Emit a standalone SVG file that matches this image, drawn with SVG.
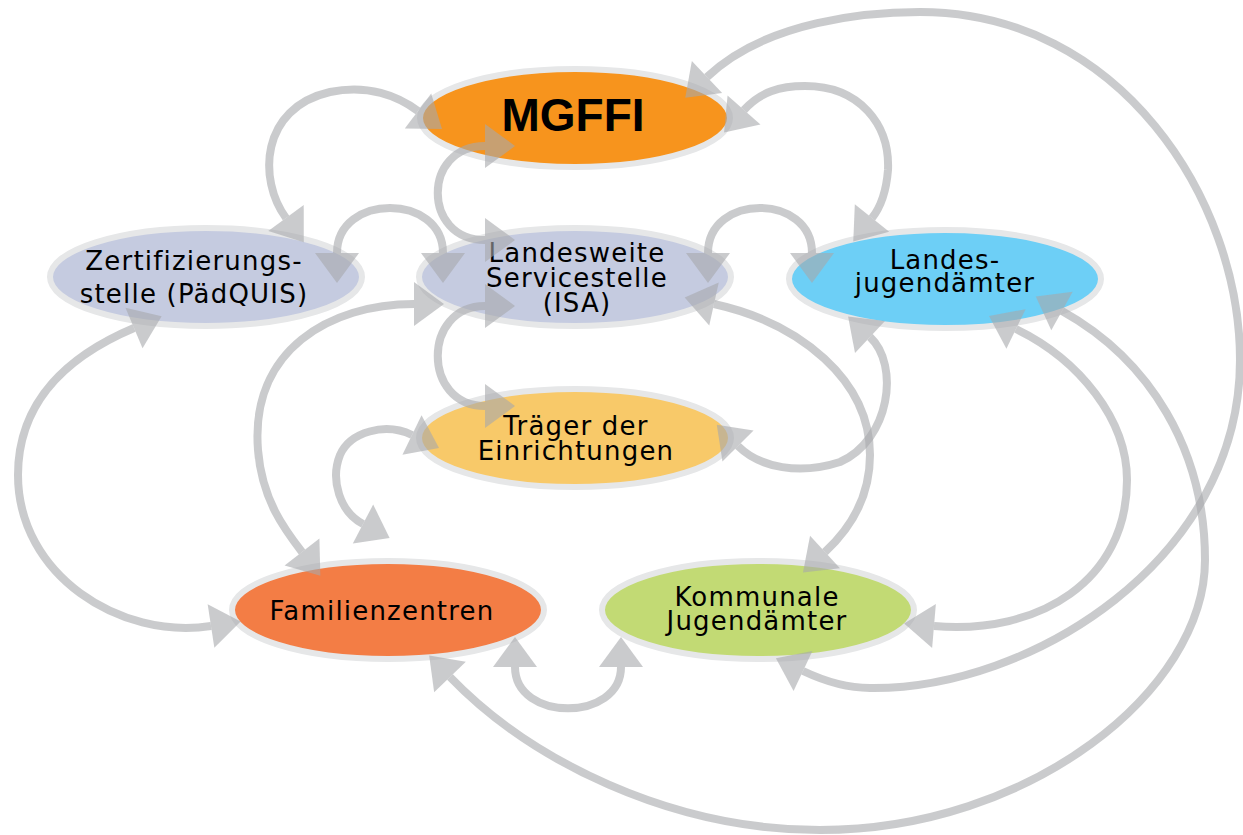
<svg xmlns="http://www.w3.org/2000/svg" width="1243" height="835" viewBox="0 0 1243 835">
<style>
.node { stroke:#e6e7e8; stroke-width:6; }
.lbl { font-family:"DejaVu Sans","Liberation Sans",sans-serif; font-size:26px; letter-spacing:1.2px; text-anchor:middle; fill:#000; }
.big { font-family:"Liberation Sans",Arial,sans-serif; font-size:46px; font-weight:bold; text-anchor:middle; fill:#000; }
.conn { fill:none; stroke:#a7a9ac; stroke-opacity:0.6; stroke-width:8; marker-start:url(#ah); marker-end:url(#ah); }
</style>
<defs>
<marker id="ah" markerUnits="userSpaceOnUse" markerWidth="30" markerHeight="44" viewBox="0 0 30 44" refX="0" refY="22" orient="auto-start-reverse" overflow="visible">
<path d="M0,0 L30,22 L0,44 Z" fill="#a7a9ac" fill-opacity="0.6"/>
</marker>
</defs>
<rect width="1243" height="835" fill="#fff"/>
<g id="n-mgffi"><ellipse class="node" cx="575" cy="118" rx="155" ry="49" fill="#f7941d"/><text class="big" x="573" y="131">MGFFI</text></g>
<g id="n-zert"><ellipse class="node" cx="206" cy="277" rx="156" ry="49" fill="#c5cbe0"/><text class="lbl" x="194" y="270">Zertifizierungs-</text><text class="lbl" x="194" y="303">stelle (PädQUIS)</text></g>
<g id="n-lss"><ellipse class="node" cx="575" cy="277" rx="156" ry="49" fill="#c5cbe0"/><text class="lbl" x="577" y="262">Landesweite</text><text class="lbl" x="577" y="287">Servicestelle</text><text class="lbl" x="577" y="312">(ISA)</text></g>
<g id="n-lja"><ellipse class="node" cx="945" cy="279" rx="156" ry="49" fill="#6dcff6"/><text class="lbl" x="945" y="269">Landes-</text><text class="lbl" x="945" y="292">jugendämter</text></g>
<g id="n-traeger"><ellipse class="node" cx="575" cy="438" rx="156" ry="49" fill="#f8c969"/><text class="lbl" x="576" y="435">Träger der</text><text class="lbl" x="576" y="460">Einrichtungen</text></g>
<g id="n-fam"><ellipse class="node" cx="388" cy="610" rx="156" ry="49" fill="#f37d45"/><text class="lbl" x="382" y="620">Familienzentren</text></g>
<g id="n-kja"><ellipse class="node" cx="758" cy="610" rx="156" ry="49" fill="#c2da74"/><text class="lbl" x="757" y="606">Kommunale</text><text class="lbl" x="757" y="630">Jugendämter</text></g>
<g id="connectors">
<path class="conn" d="M286,218 C258,180 260,108 330,92 C368,84 398,96 418,111"/>
<path class="conn" d="M337,253 C337,193 443,193 443,253"/>
<path class="conn" d="M485,146 C422,146 422,240 485,240"/>
<path class="conn" d="M485,306 C422,306 422,406 485,406"/>
<path class="conn" d="M414,304 C330,304 250,350 258,450 C262,500 285,530 302,552"/>
<path class="conn" d="M363,524 C340,512 330,480 340,455 C350,432 385,422 412,435"/>
<path class="conn" d="M744,110 C760,92 780,86 805,86 C860,86 890,125 888,170 C886,195 880,208 872,218"/>
<path class="conn" d="M708,253 C708,193 812,193 812,253"/>
<path class="conn" d="M134,328 C70,355 18,400 18,475 C18,575 120,640 211,626"/>
<path class="conn" d="M515,667 C515,722 621,722 621,667"/>
<path class="conn" d="M707,77 C767,20 870,12 920,12 C1120,12 1240,200 1240,360 C1240,560 1030,690 870,688 C845,688 822,680 803,671"/>
<path class="conn" d="M714,304 C800,323 870,380 870,455 C870,495 852,527 825,552"/>
<path class="conn" d="M738,446 C760,468 800,475 840,462 C890,440 900,365 870,337"/>
<path class="conn" d="M1016,329 C1080,360 1127,420 1127,480 C1127,580 1040,635 934,626"/>
<path class="conn" d="M1062,311 C1150,360 1205,450 1205,560 C1205,690 1030,830 820,830 C670,830 530,760 450,677"/>
</g>
</svg>
